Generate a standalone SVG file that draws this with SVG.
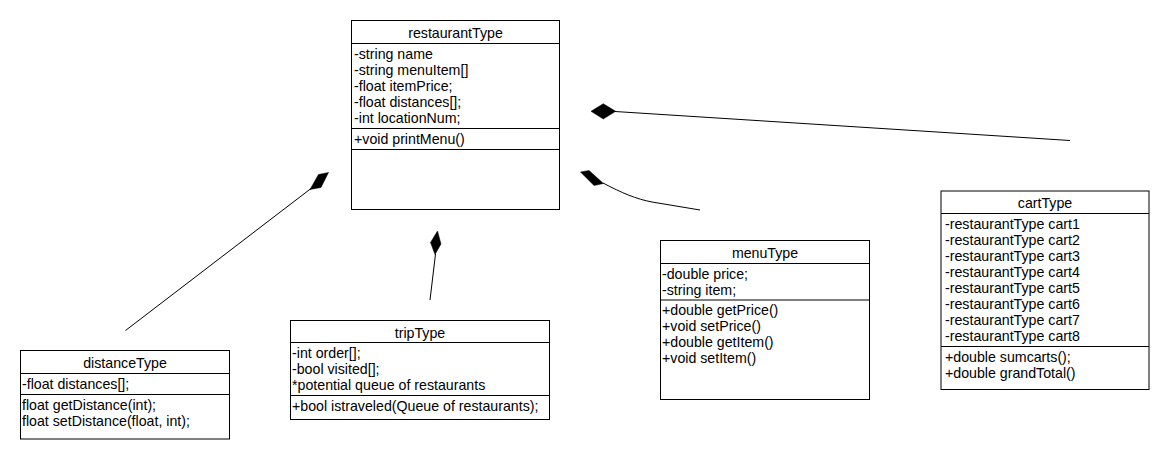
<svg xmlns="http://www.w3.org/2000/svg" width="1171" height="461" viewBox="0 0 1171 461">
  <style>
    .box { fill: #ffffff; stroke: #000000; stroke-width: 1; }
    .sep { stroke: #000000; stroke-width: 1; }
    .title { font-family: "Liberation Sans", Arial, sans-serif; font-size: 14.2px; fill: #000000; text-anchor: middle; }
    .member { font-family: "Liberation Sans", Arial, sans-serif; font-size: 14.2px; fill: #000000; }
    .link { fill: none; stroke: #000000; stroke-width: 1; }
    .diamond { fill: #000000; stroke: #000000; stroke-width: 0.5; }
  </style>
  <rect width="1171" height="461" fill="#ffffff"/>

  <!-- composition connectors (filled diamond at the owning class) -->
  <g id="connectors">
    <line class="link" x1="125.5" y1="330.5" x2="311" y2="188.5"/>
    <polygon class="diamond" points="310,189.5 318.5,174.5 328.5,172.5 321,187.5"/>

    <line class="link" x1="430" y1="300" x2="435.5" y2="254"/>
    <polygon class="diamond" points="437.5,231 441,244 435,254.5 430.5,242.5"/>

    <path class="link" d="M603,183 C 622,193 636,199 652,202 L 700,210"/>
    <polygon class="diamond" points="580.5,172 589,170.5 603.5,183.5 594,185.5"/>

    <line class="link" x1="615" y1="111.5" x2="1070" y2="140.5"/>
    <polygon class="diamond" points="591,111.3 603.3,103.7 615.7,111.3 603.3,119"/>
  </g>

  <g id="restaurantType">
    <rect class="box" x="351.5" y="20.5" width="208" height="189"/>
    <line class="sep" x1="351.5" y1="43.5" x2="559.5" y2="43.5"/>
    <line class="sep" x1="351.5" y1="128.5" x2="559.5" y2="128.5"/>
    <line class="sep" x1="351.5" y1="149.5" x2="559.5" y2="149.5"/>
    <text class="title" x="455.5" y="38">restaurantType</text>
    <text class="member" x="354" y="58.5">-string name</text>
    <text class="member" x="354" y="74.5">-string menuItem[]</text>
    <text class="member" x="354" y="90.5">-float itemPrice;</text>
    <text class="member" x="354" y="106.5">-float distances[];</text>
    <text class="member" x="354" y="122.5">-int locationNum;</text>
    <text class="member" x="354" y="143.5">+void printMenu()</text>
  </g>

  <g id="distanceType">
    <rect class="box" x="20.5" y="350.5" width="209" height="88.5"/>
    <line class="sep" x1="20.5" y1="373.5" x2="229.5" y2="373.5"/>
    <line class="sep" x1="20.5" y1="394.5" x2="229.5" y2="394.5"/>
    <text class="title" x="125" y="368">distanceType</text>
    <text class="member" x="22" y="388.5">-float distances[];</text>
    <text class="member" x="22" y="409.5">float getDistance(int);</text>
    <text class="member" x="22" y="425.5">float setDistance(float, int);</text>
  </g>

  <g id="tripType">
    <rect class="box" x="290.5" y="320.5" width="259" height="99"/>
    <line class="sep" x1="290.5" y1="342.5" x2="549.5" y2="342.5"/>
    <line class="sep" x1="290.5" y1="395.5" x2="549.5" y2="395.5"/>
    <text class="title" x="420" y="338">tripType</text>
    <text class="member" x="292" y="357.5">-int order[];</text>
    <text class="member" x="292" y="373.5">-bool visited[];</text>
    <text class="member" x="292" y="389.5">*potential queue of restaurants</text>
    <text class="member" x="292" y="410.5">+bool istraveled(Queue of restaurants);</text>
  </g>

  <g id="menuType">
    <rect class="box" x="660.5" y="240.5" width="209" height="159"/>
    <line class="sep" x1="660.5" y1="263.5" x2="869.5" y2="263.5"/>
    <line class="sep" x1="660.5" y1="300" x2="869.5" y2="300"/>
    <text class="title" x="765" y="258">menuType</text>
    <text class="member" x="662" y="279">-double price;</text>
    <text class="member" x="662" y="295">-string item;</text>
    <text class="member" x="662" y="315">+double getPrice()</text>
    <text class="member" x="662" y="331">+void setPrice()</text>
    <text class="member" x="662" y="347">+double getItem()</text>
    <text class="member" x="662" y="363">+void setItem()</text>
  </g>

  <g id="cartType">
    <rect class="box" x="941" y="191" width="208" height="198.5"/>
    <line class="sep" x1="941" y1="213.5" x2="1149" y2="213.5"/>
    <line class="sep" x1="941" y1="346.5" x2="1149" y2="346.5"/>
    <text class="title" x="1045" y="207.5">cartType</text>
    <text class="member" x="945" y="229.3">-restaurantType cart1</text>
    <text class="member" x="945" y="245.3">-restaurantType cart2</text>
    <text class="member" x="945" y="261.3">-restaurantType cart3</text>
    <text class="member" x="945" y="277.3">-restaurantType cart4</text>
    <text class="member" x="945" y="293.3">-restaurantType cart5</text>
    <text class="member" x="945" y="309.3">-restaurantType cart6</text>
    <text class="member" x="945" y="325.3">-restaurantType cart7</text>
    <text class="member" x="945" y="341.3">-restaurantType cart8</text>
    <text class="member" x="945" y="362">+double sumcarts();</text>
    <text class="member" x="945" y="378">+double grandTotal()</text>
  </g>
</svg>
